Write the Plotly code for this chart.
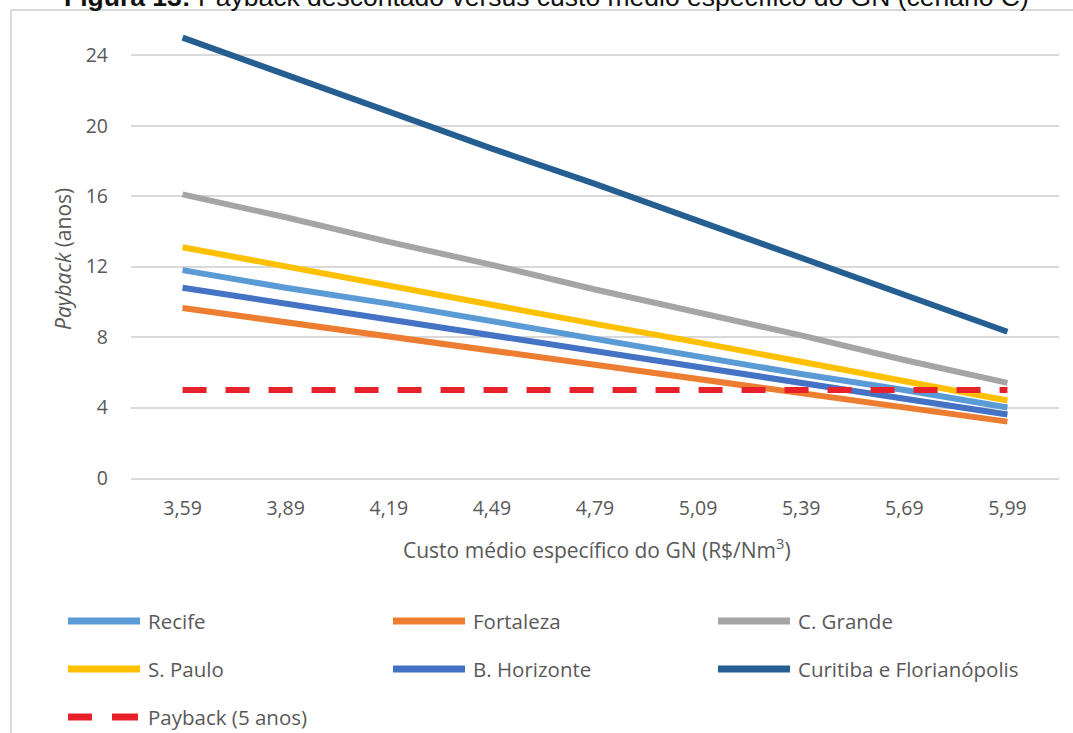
import plotly.graph_objects as go

# Natural gas average specific cost (R$/Nm3) – category labels
custos = ["3,59", "3,89", "4,19", "4,49", "4,79", "5,09", "5,39", "5,69", "5,99"]

# Discounted payback (years) per city
recife = [11.8, 10.8, 9.9, 8.9, 7.9, 6.9, 5.9, 5.0, 4.0]
fortaleza = [9.65, 8.85, 8.0, 7.2, 6.4, 5.6, 4.8, 4.0, 3.2]
c_grande = [16.1, 14.8, 13.4, 12.1, 10.7, 9.4, 8.1, 6.7, 5.4]
s_paulo = [13.1, 12.0, 10.9, 9.8, 8.75, 7.7, 6.6, 5.5, 4.4]
b_horizonte = [10.8, 9.9, 9.0, 8.1, 7.2, 6.3, 5.4, 4.5, 3.6]
curitiba_floripa = [25.0, 22.9, 20.8, 18.7, 16.7, 14.6, 12.5, 10.4, 8.3]
payback_ref = [5, 5, 5, 5, 5, 5, 5, 5, 5]

y_ticks = [0, 4, 8, 12, 16, 20, 24]

series = [
    ("Recife", recife, "#5B9BD5", "solid"),
    ("Fortaleza", fortaleza, "#ED7D31", "solid"),
    ("C. Grande", c_grande, "#A5A5A5", "solid"),
    ("S. Paulo", s_paulo, "#FFC000", "solid"),
    ("B. Horizonte", b_horizonte, "#4472C4", "solid"),
    ("Curitiba e Florianópolis", curitiba_floripa, "#255E91", "solid"),
    ("Payback (5 anos)", payback_ref, "#E8202A", "24px,19px"),
]

W, H = 1073, 733
L, R, T, B = 131, 14, 20, 255
PW, PH = W - L - R, H - T - B


def px(x):
    return (x - L) / PW


def py(y):
    return (H - B - y) / PH


TXT = "#595959"
FONT = "Open Sans, Calibri, sans-serif"

fig = go.Figure()
for name, vals, color, dash in series:
    fig.add_trace(go.Scatter(
        x=custos, y=vals, mode="lines", name=name,
        line=dict(color=color, width=6, dash=dash),
        showlegend=False,
    ))

shapes = []
annotations = []

# Frame (left and top edges)
shapes.append(dict(type="line", xref="paper", yref="paper",
                   x0=px(11), x1=px(11), y0=py(10), y1=py(740),
                   line=dict(color="#D9D9D9", width=2)))
shapes.append(dict(type="line", xref="paper", yref="paper",
                   x0=px(11), x1=px(1080), y0=py(10), y1=py(10),
                   line=dict(color="#D9D9D9", width=2)))

# Legend built as line samples plus labels, three columns
col_x = [68, 393, 718]
row_y = [621, 669, 717]
for i, (name, vals, color, dash) in enumerate(series):
    cx = col_x[i % 3]
    cy = row_y[i // 3]
    if dash == "solid":
        segs = [(cx, cx + 72)]
    else:
        segs = [(cx, cx + 24), (cx + 44, cx + 70)]
    for a, b in segs:
        shapes.append(dict(type="line", xref="paper", yref="paper",
                           x0=px(a), x1=px(b), y0=py(cy), y1=py(cy),
                           line=dict(color=color, width=7)))
    annotations.append(dict(
        text=name, xref="paper", yref="paper", x=px(cx + 78), y=py(cy),
        xanchor="left", yanchor="middle", showarrow=False,
        font=dict(family=FONT, size=20.5, color=TXT)))

# Axis titles
annotations.append(dict(
    text="<i>Payback</i> (anos)", xref="paper", yref="paper",
    x=px(63), y=py(259), textangle=-90, showarrow=False,
    xanchor="center", yanchor="middle",
    font=dict(family=FONT, size=21, color=TXT)))
annotations.append(dict(
    text="Custo médio específico do GN (R$/Nm<sup>3</sup>)", xref="paper", yref="paper",
    x=px(597), y=py(548), showarrow=False, xanchor="center", yanchor="middle",
    font=dict(family=FONT, size=21, color=TXT)))

# Figure caption
annotations.append(dict(
    text="<b>Figura 13:</b> Payback descontado versus custo médio específico do GN (cenário C)",
    xref="paper", yref="paper", x=px(546), y=py(-3), showarrow=False,
    xanchor="center", yanchor="middle",
    font=dict(family="Liberation Sans, Arial, sans-serif", size=26.5, color="#111111")))

fig.update_layout(
    width=W, height=H,
    margin=dict(l=L, r=R, t=T, b=B, pad=0),
    paper_bgcolor="white", plot_bgcolor="white",
    shapes=shapes, annotations=annotations,
    showlegend=False,
    xaxis=dict(type="category", range=[-0.5, 8.5], showgrid=False,
               showline=True, linecolor="#D9D9D9", linewidth=1.5,
               ticks="", ticklabelstandoff=12,
               tickfont=dict(family=FONT, size=19.5, color=TXT)),
    yaxis=dict(range=[0, 26], tickvals=y_ticks, showgrid=True,
               gridcolor="#D9D9D9", gridwidth=1.5, zeroline=False,
               showline=False, ticks="", ticklabelstandoff=22,
               tickfont=dict(family=FONT, size=19.5, color=TXT)),
)

fig.write_html("out.html")
